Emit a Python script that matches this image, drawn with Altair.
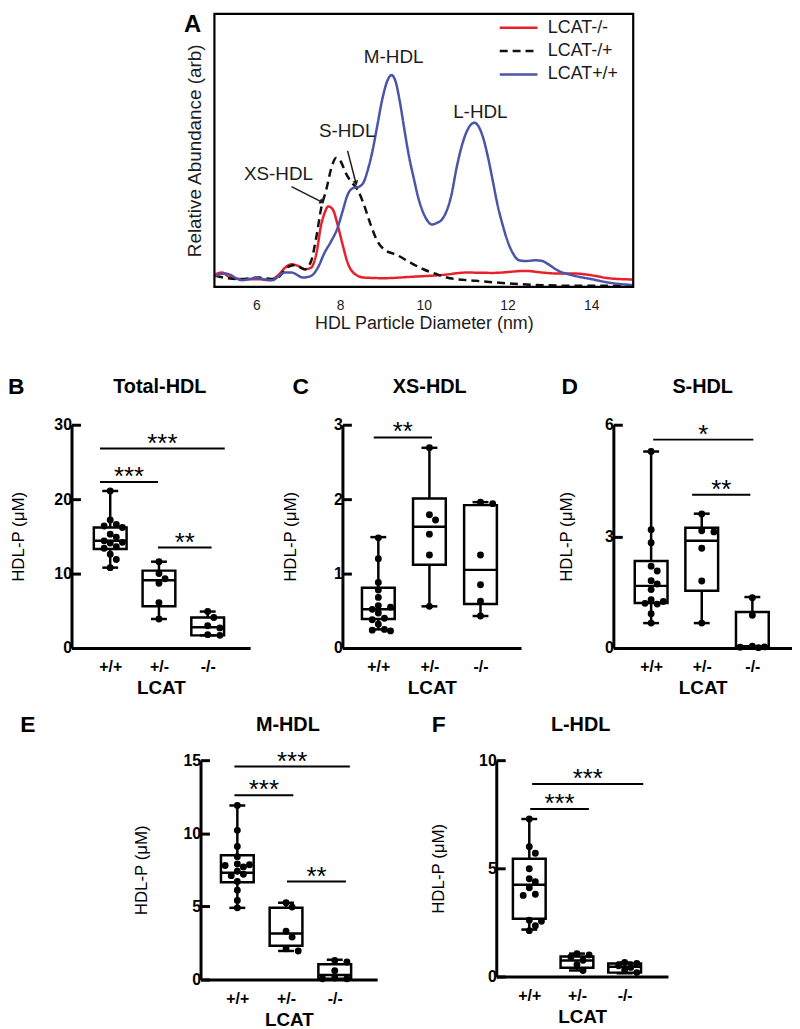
import math
import altair as alt
import pandas as pd

FONT = "Liberation Sans"
RED = "#e8202a"
BLUE = "#4a55a7"
INK = "#1c1c1c"

# ---------------- Panel A: HDL particle size distributions ----------------
series_names = ["LCAT-/-", "LCAT-/+", "LCAT+/+"]

dia_ko = [5.02, 5.19, 5.35, 5.74, 6.06, 6.29, 6.53, 6.69, 6.84, 7.00, 7.16, 7.31, 7.43, 7.55, 7.63,
          7.72, 7.83, 7.94, 8.06, 8.18, 8.34, 8.57, 9.05, 9.68, 10.46, 11.02, 11.65, 12.43, 12.83,
          13.22, 13.61, 14.09, 14.40, 14.99]
abd_ko = [3.8, 4.3, 3.0, 2.3, 2.3, 2.0, 3.6, 5.8, 6.8, 6.3, 5.3, 5.8, 9.8, 18.8, 22.3, 24.3, 23.3,
          18.8, 12.8, 7.3, 4.0, 2.8, 2.6, 3.0, 3.6, 4.3, 4.2, 4.8, 4.3, 4.0, 4.0, 3.3, 2.6, 2.2]

dia_het = [5.02, 5.58, 6.06, 6.45, 6.76, 6.92, 7.16, 7.31, 7.43, 7.55, 7.67, 7.79, 7.91, 8.02, 8.14,
           8.26, 8.42, 8.57, 8.73, 8.89, 9.05, 9.36, 9.68, 9.99, 10.31, 10.62, 11.25, 12.04, 12.83,
           13.61, 14.99]
abd_het = [3.3, 2.3, 2.8, 2.3, 6.0, 6.6, 5.3, 7.8, 14.8, 23.8, 29.3, 35.8, 39.0, 37.8, 34.3, 31.8,
           29.3, 24.8, 18.8, 13.8, 11.3, 9.6, 7.3, 5.3, 3.8, 2.6, 1.8, 1.0, 0.5, 0.3, 0.3]

dia_wt = [5.02, 5.27, 5.66, 5.98, 6.37, 6.69, 6.84, 7.12, 7.31, 7.47, 7.63, 7.79, 7.94, 8.06, 8.18,
          8.30, 8.46, 8.57, 8.65, 8.77, 8.89, 9.01, 9.13, 9.23, 9.32, 9.43, 9.52, 9.64, 9.76, 9.87,
          9.99, 10.11, 10.19, 10.31, 10.43, 10.54, 10.66, 10.78, 10.90, 11.02, 11.13, 11.21, 11.29,
          11.41, 11.53, 11.65, 11.76, 11.88, 12.00, 12.12, 12.28, 12.43, 12.67, 12.83, 12.91, 13.22,
          13.61, 14.01, 14.40, 14.99]
abd_wt = [3.3, 4.0, 2.0, 2.6, 2.0, 4.3, 4.3, 2.8, 3.3, 5.8, 10.3, 13.8, 17.8, 22.8, 27.8, 29.8, 30.3,
          31.8, 34.8, 40.8, 48.8, 56.8, 62.3, 64.0, 62.3, 55.8, 48.8, 39.8, 32.8, 26.8, 22.3, 19.6,
          18.8, 19.3, 20.3, 22.8, 27.8, 35.8, 42.3, 46.8, 49.1, 49.6, 48.8, 45.3, 39.3, 31.8, 24.8,
          18.8, 13.8, 10.3, 8.0, 7.8, 8.0, 7.8, 7.3, 4.8, 3.3, 2.3, 1.3, 0.5]

peak_labels = ["M-HDL", "L-HDL", "S-HDL", "XS-HDL"]
peak_label_x = [9.28, 11.35, 8.17, 6.53]
peak_label_y = [69.3, 52.8, 47.0, 34.1]

arrow_x1 = [6.84, 8.18]
arrow_y1 = [30.3, 41.1]
arrow_x2 = [7.57, 8.38]
arrow_y2 = [25.6, 31.3]

A_W, A_H = 422, 275
A_XDOM = [5, 15]
A_YDOM = [0, 82.5]

# ---------------- Box plot panels ----------------
genotypes = ["+/+", "+/-", "-/-"]

panels = [
    dict(key="B", title="Total-HDL", ymax=30, yticks=[0, 10, 20, 30],
         lo=[10.8, 3.9, 1.7], q1=[13.3, 5.6, 1.7], med=[14.4, 9.1, 2.8], q3=[16.2, 10.4, 4.1], hi=[21.1, 11.6, 4.9],
         pts=[[21.1, 17.2, 16.6, 16.4, 16.2, 15.3, 14.9, 14.4, 14.2, 14.1, 13.6, 13.4, 12.6, 11.9, 10.8],
              [11.6, 10.0, 9.3, 8.7, 6.1, 3.9],
              [4.9, 4.1, 3.0, 2.7, 1.8, 1.7]],
         sig_x1=[-0.21, -0.21, 0.98], sig_x2=[2.35, 0.98, 2.08], sig_y=[26.8, 22.3, 13.5],
         sig_lab=["***", "***", "**"]),
    dict(key="C", title="XS-HDL", ymax=3, yticks=[0, 1, 2, 3],
         lo=[0.25, 0.56, 0.43], q1=[0.39, 1.12, 0.59], med=[0.52, 1.63, 1.05], q3=[0.81, 2.01, 1.92], hi=[1.49, 2.69, 1.96],
         pts=[[1.48, 1.2, 0.88, 0.78, 0.68, 0.57, 0.55, 0.52, 0.47, 0.40, 0.38, 0.32, 0.25, 0.24, 0.23],
              [2.69, 1.79, 1.72, 1.53, 1.25, 0.56],
              [1.96, 1.94, 1.25, 0.85, 0.63, 0.43]],
         sig_x1=[-0.09], sig_x2=[1.05], sig_y=[2.83], sig_lab=["**"]),
    dict(key="D", title="S-HDL", ymax=6, yticks=[0, 3, 6],
         lo=[0.67, 0.67, 0.0], q1=[1.21, 1.54, 0.02], med=[1.67, 2.88, 0.05], q3=[2.34, 3.23, 0.97], hi=[5.28, 3.61, 1.37],
         pts=[[5.28, 3.18, 2.83, 2.2, 2.07, 1.81, 1.72, 1.57, 1.30, 1.25, 1.20, 1.18, 0.92, 0.67],
              [3.6, 3.15, 3.12, 2.68, 1.8, 0.67],
              [1.35, 0.88, 0.05, 0.03, 0.02, 0.01]],
         sig_x1=[0.04, 0.81], sig_x2=[2.02, 1.96], sig_y=[5.6, 4.12], sig_lab=["*", "**"]),
    dict(key="E", title="M-HDL", ymax=15, yticks=[0, 5, 10, 15],
         lo=[4.9, 1.95, 0.0], q1=[6.65, 2.3, 0.05], med=[7.3, 3.15, 0.3], q3=[8.5, 4.9, 1.05], hi=[11.9, 5.25, 1.35],
         pts=[[11.9, 10.2, 9.1, 8.4, 7.9, 7.85, 7.8, 7.7, 7.4, 7.2, 7.1, 6.7, 6.1, 5.4, 4.9],
              [5.25, 4.95, 3.3, 2.9, 2.1, 1.95],
              [1.3, 1.2, 0.6, 0.1, 0.05, 0.05]],
         sig_x1=[-0.06, -0.06, 1.02], sig_x2=[2.31, 1.15, 2.23], sig_y=[14.56, 12.6, 6.7],
         sig_lab=["***", "***", "**"]),
    dict(key="F", title="L-HDL", ymax=10, yticks=[0, 5, 10],
         lo=[2.17, 0.28, 0.15], q1=[2.67, 0.41, 0.18], med=[4.24, 0.74, 0.45], q3=[5.44, 0.92, 0.6], hi=[7.28, 1.06, 0.65],
         pts=[[7.28, 6.0, 5.7, 4.98, 4.52, 4.38, 4.1, 3.8, 3.75, 2.6, 2.55, 2.35, 2.12],
              [1.05, 1.0, 0.9, 0.75, 0.55, 0.28],
              [0.65, 0.6, 0.5, 0.42, 0.3, 0.18]],
         sig_x1=[0.06, 0.02], sig_x2=[2.39, 1.25], sig_y=[8.9, 7.74], sig_lab=["***", "***"]),
]

# grid columns (flush layout, zero column spacing): starts 0,130,144,273,428,546
COLW = [130, 14, 129, 155, 118, 180]

# per panel: grid cell width, axis length, plot height, first-category offset, step
layout = {
    "B": dict(cw=130, rw=180, h=225, off=36, step=52, letter_x=-64, letter_align="left", title_x=89, ty=-38, ytp=27),
    "C": dict(cw=155, rw=180, h=225, off=33, step=54.5, letter_x=-42, letter_align="center", title_x=88, ty=-38, ytp=34),
    "D": dict(cw=180, rw=180, h=225, off=35, step=54, letter_x=-44, letter_align="center", title_x=90, ty=-38, ytp=29),
    "E": dict(cw=14, rw=178, h=221, off=34, step=52, letter_x=-174, letter_align="center", title_x=88, ty=-35, ytp=33),
    "F": dict(cw=118, rw=173, h=218, off=30, step=51, letter_x=-58, letter_align="center", title_x=85, ty=-35, ytp=31),
}


def swarm(vals, ppu, step):
    order = sorted(range(len(vals)), key=lambda i: -vals[i])
    placed = []
    out = [0.0] * len(vals)
    for i in order:
        y = vals[i] * ppu
        best, best_d = 0.0, -1
        for k in (0, 1, -1, 2, -2):
            xo = k * 6.5
            d = min([math.hypot(xo - px, y - py) for px, py in placed] or [99])
            if d >= 7.0:
                best = xo
                break
            if d > best_d:
                best, best_d = xo, d
        placed.append((best, y))
        out[i] = best / step
    return out


def text_layer(txt, x, y, size, weight, align="center", baseline="middle"):
    return alt.Chart(pd.DataFrame({"t": [txt]})).mark_text(
        font=FONT, fontSize=size, fontWeight=weight, align=align, baseline=baseline, color="black"
    ).encode(text="t:N", x=alt.value(x), y=alt.value(y))


def box_panel(p):
    L = layout[p["key"]]
    xmin = -L["off"] / L["step"]
    xmax = (L["rw"] - L["off"]) / L["step"]
    xs = alt.Scale(domain=[xmin, xmax], range=[0, L["rw"]], nice=False, zero=False)
    ys = alt.Scale(domain=[0, p["ymax"]], nice=False, zero=False)
    xax = alt.Axis(values=[0, 1, 2], title="LCAT", grid=False, ticks=False, tickSize=0,
                   labelExpr="datum.value == 0 ? '+/+' : datum.value == 1 ? '+/-' : '-/-'",
                   labelFlush=False, labelOverlap=False, domainColor="black", domainWidth=3,
                   labelFont=FONT, labelFontSize=16, labelFontWeight="bold", labelColor="black",
                   labelPadding=11, titleFont=FONT, titleFontSize=19, titleFontWeight="bold",
                   titleColor="black", titlePadding=4)
    yax = alt.Axis(values=p["yticks"], format="d", title="HDL-P (\u03bcM)", grid=False,
                   domainColor="black", domainWidth=3, tickColor="black", tickWidth=3,
                   tickSize=alt.ExprRef(expr="-9"), labelFont=FONT, labelFontSize=16,
                   labelFontWeight="bold", labelColor="black", labelPadding=9,
                   titleFont=FONT, titleFontSize=17, titleFontWeight="normal", titleColor="black",
                   titlePadding=L["ytp"])
    X = lambda f: alt.X(f, scale=xs, axis=xax)
    Y = lambda f: alt.Y(f, scale=ys, axis=yax)

    st = pd.DataFrame({"g": [0, 1, 2], "lo": p["lo"], "q1": p["q1"], "med": p["med"],
                       "q3": p["q3"], "hi": p["hi"]})
    rows = []
    ppu = L["h"] / p["ymax"]
    for g, vals in enumerate(p["pts"]):
        js = swarm(vals, ppu, L["step"])
        for v, j in zip(vals, js):
            rows.append({"g": g, "v": v, "j": j})
    pts = pd.DataFrame(rows)
    sig = pd.DataFrame({"x1": p["sig_x1"], "x2": p["sig_x2"], "y": p["sig_y"], "lab": p["sig_lab"]})

    whisk = alt.Chart(st).mark_rule(color="black", strokeWidth=2.5).encode(
        x=X("g:Q"), y=Y("lo:Q"), y2="hi:Q")
    box = alt.Chart(st).mark_bar(size=33, fill="white", stroke="black", strokeWidth=2.5,
                                 orient="vertical").encode(x=X("g:Q"), y=Y("q1:Q"), y2="q3:Q")
    med = alt.Chart(st).mark_tick(orient="horizontal", size=33, thickness=2.5, color="black",
                                  opacity=1).encode(x=X("g:Q"), y=Y("med:Q"))
    caps = alt.Chart(st).transform_fold(["lo", "hi"], as_=["k", "cap"]).mark_tick(
        orient="horizontal", size=16, thickness=2.5, color="black", opacity=1).encode(
        x=X("g:Q"), y=Y("cap:Q"))
    dots = alt.Chart(pts).transform_calculate(gx="datum.g + datum.j").mark_circle(
        size=48, color="black", opacity=1).encode(x=X("gx:Q"), y=Y("v:Q"))
    sigr = alt.Chart(sig).mark_rule(color="black", strokeWidth=2).encode(
        x=X("x1:Q"), x2="x2:Q", y=Y("y:Q"))
    sigt = alt.Chart(sig).transform_calculate(xm="(datum.x1 + datum.x2) / 2").mark_text(
        font=FONT, fontSize=26, color="black", baseline="alphabetic", dy=3).encode(
        x=X("xm:Q"), y=Y("y:Q"), text="lab:N")
    letter = text_layer(p["key"], L["letter_x"], L["ty"], 23, "bold", align=L["letter_align"])
    title = text_layer(p["title"], L["title_x"], L["ty"], 20, "bold")
    return alt.layer(whisk, box, med, caps, dots, sigr, sigt, letter, title).properties(
        width=L["cw"], height=L["h"])


# ---------------- Panel A chart ----------------
dist = pd.concat([
    pd.DataFrame({"d": dia_ko, "a": abd_ko, "s": series_names[0], "o": 0}),
    pd.DataFrame({"d": dia_het, "a": abd_het, "s": series_names[1], "o": 1}),
    pd.DataFrame({"d": dia_wt, "a": abd_wt, "s": series_names[2], "o": 2}),
], ignore_index=True)

axs = alt.Scale(domain=A_XDOM, range=[0, A_W], nice=False, zero=False)
ays = alt.Scale(domain=A_YDOM, nice=False, zero=False)
a_xax = alt.Axis(values=[6, 8, 10, 12, 14], grid=False, domain=False, ticks=False,
                 labelFont=FONT, labelFontSize=14, labelColor=INK, labelPadding=12,
                 title="HDL Particle Diameter (nm)", titleFont=FONT, titleFontSize=18,
                 titleFontWeight="normal", titleColor=INK, titlePadding=2)
a_yax = alt.Axis(labels=False, ticks=False, domain=False, grid=False,
                 title="Relative Abundance (arb)", titleFont=FONT, titleFontSize=19,
                 titleFontWeight="normal", titleColor=INK, titlePadding=10)
AX = lambda f: alt.X(f, scale=axs, axis=a_xax)
AY = lambda f: alt.Y(f, scale=ays, axis=a_yax)

leg = alt.Legend(title=None)

lines = alt.Chart(dist).mark_line(strokeWidth=2.5, interpolate="monotone").encode(
    x=AX("d:Q"), y=AY("a:Q"),
    color=alt.Color("s:N", scale=alt.Scale(domain=series_names, range=[RED, "#111111", BLUE]),
                    legend=leg),
    strokeDash=alt.StrokeDash("s:N", scale=alt.Scale(domain=series_names,
                              range=[[1, 0], [8, 5], [1, 0]]), legend=leg),
    detail="o:N",
)

frame = alt.Chart(pd.DataFrame({"f": [0]})).mark_rect(
    filled=False, stroke="black", strokeWidth=2.2, fillOpacity=0).encode(
    x=alt.XDatum(A_XDOM[0], scale=axs, axis=a_xax), x2=alt.X2Datum(A_XDOM[1]),
    y=alt.YDatum(A_YDOM[0], scale=ays, axis=a_yax), y2=alt.Y2Datum(A_YDOM[1]))

ann = pd.DataFrame({"t": peak_labels, "x": peak_label_x, "y": peak_label_y})
ann_text = alt.Chart(ann).mark_text(font=FONT, fontSize=19, color=INK).encode(
    x=AX("x:Q"), y=AY("y:Q"), text="t:N")

px_x = A_W / (A_XDOM[1] - A_XDOM[0])
px_y = A_H / (A_YDOM[1] - A_YDOM[0])
angles = [math.degrees(math.atan2((x2 - x1) * px_x, (y2 - y1) * px_y)) % 360
          for x1, y1, x2, y2 in zip(arrow_x1, arrow_y1, arrow_x2, arrow_y2)]
arr = pd.DataFrame({"x1": arrow_x1, "y1": arrow_y1, "x2": arrow_x2, "y2": arrow_y2, "ang": angles})
arr_line = alt.Chart(arr).mark_rule(color=INK, strokeWidth=1.5).encode(
    x=AX("x1:Q"), y=AY("y1:Q"), x2="x2:Q", y2="y2:Q")
arr_head = alt.Chart(arr).mark_point(shape="triangle-up", filled=True, size=35, color=INK,
                                     opacity=1).encode(
    x=AX("x2:Q"), y=AY("y2:Q"), angle=alt.Angle("ang:Q", scale=None))
a_letter = text_layer("A", -22, -1, 24, "bold", baseline="top")

chart_a = alt.layer(lines, frame, ann_text, arr_line, arr_head, a_letter).properties(
    width=COLW[2], height=A_H)


def spacer(w, h):
    return alt.Chart(pd.DataFrame({"s": [0]})).mark_point(opacity=0, size=1).encode(
        x=alt.X("s:Q", axis=None), y=alt.Y("s:Q", axis=None)).properties(width=w, height=h)


pB, pC, pD, pE, pF = [box_panel(p) for p in panels]

cells = [
    spacer(COLW[0], 301), spacer(COLW[1], 1), chart_a, spacer(COLW[3], 1), spacer(COLW[4], 1), spacer(COLW[5], 1),
    pB, spacer(COLW[1], 1), spacer(COLW[2], 1), pC, spacer(COLW[4], 1), pD,
    spacer(COLW[0], 1), pE, spacer(COLW[2], 1), spacer(COLW[3], 1), pF, spacer(COLW[5], 1),
]

chart = alt.concat(
    *cells,
    columns=6,
    spacing={"row": 113, "column": 0},
    bounds="flush",
    align="each",
).properties(padding=0).configure(font=FONT).configure_view(stroke=None).configure_legend(
    orient="none", legendX=430, legendY=3, labelFont=FONT, labelFontSize=18, labelColor=INK,
    symbolType="stroke", symbolSize=1444, symbolStrokeWidth=2.5, clipHeight=22, rowPadding=1.5,
    labelOffset=9, padding=0)

chart.save("out.html", embed_options={"renderer": "svg", "actions": False})
